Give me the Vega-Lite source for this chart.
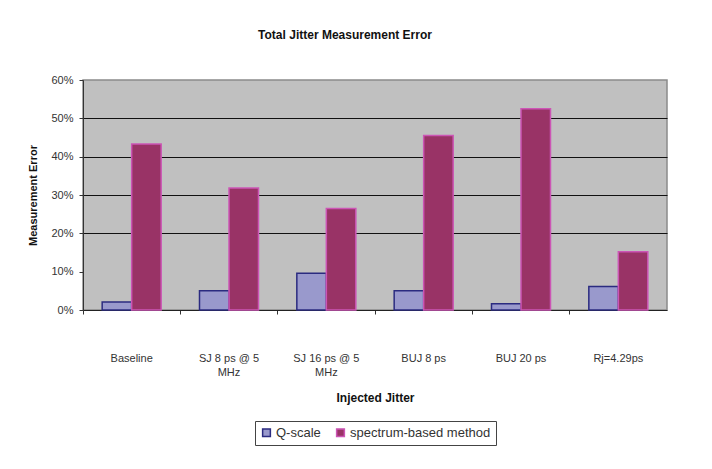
{
  "$schema": "https://vega.github.io/schema/vega-lite/v6.json",
  "width": 584,
  "height": 230,
  "autosize": {"type": "none"},
  "padding": {"left": 83, "top": 80, "right": 45, "bottom": 159},
  "background": "white",
  "config": {
    "font": "Liberation Sans",
    "view": {"fill": "#C0C0C0", "stroke": "#8a8a8a", "strokeWidth": 1.5}
  },
  "title": {
    "text": "Total Jitter Measurement Error",
    "font": "Liberation Sans",
    "fontSize": 12,
    "fontWeight": "bold",
    "color": "#111",
    "anchor": "middle",
    "dx": -30,
    "offset": 32
  },
  "data": {
    "values": [
      {"jitter": "Baseline", "method": "Q-scale", "error": 0.021},
      {"jitter": "Baseline", "method": "spectrum-based method", "error": 0.433},
      {"jitter": "SJ 8 ps @ 5 MHz", "method": "Q-scale", "error": 0.050},
      {"jitter": "SJ 8 ps @ 5 MHz", "method": "spectrum-based method", "error": 0.318},
      {"jitter": "SJ 16 ps @ 5 MHz", "method": "Q-scale", "error": 0.096},
      {"jitter": "SJ 16 ps @ 5 MHz", "method": "spectrum-based method", "error": 0.265},
      {"jitter": "BUJ 8 ps", "method": "Q-scale", "error": 0.050},
      {"jitter": "BUJ 8 ps", "method": "spectrum-based method", "error": 0.455},
      {"jitter": "BUJ 20 ps", "method": "Q-scale", "error": 0.016},
      {"jitter": "BUJ 20 ps", "method": "spectrum-based method", "error": 0.525},
      {"jitter": "Rj=4.29ps", "method": "Q-scale", "error": 0.061},
      {"jitter": "Rj=4.29ps", "method": "spectrum-based method", "error": 0.152}
    ]
  },
  "mark": {"type": "bar", "strokeWidth": 1.5, "strokeJoin": "miter"},
  "encoding": {
    "x": {
      "field": "jitter",
      "type": "nominal",
      "sort": null,
      "scale": {"paddingInner": 0, "paddingOuter": 0},
      "axis": {
        "title": "Injected Jitter",
        "titleFont": "Liberation Sans",
        "titleFontSize": 12,
        "titleFontWeight": "bold",
        "titleColor": "#111",
        "titlePadding": 15,
        "labelAngle": 0,
        "labelFontSize": 11,
        "labelColor": "#333",
        "labelPadding": 38,
        "labelLineHeight": 14,
        "labelExpr": "indexof(datum.label, ' MHz') > 0 ? [slice(datum.label, 0, indexof(datum.label, ' MHz')), 'MHz'] : datum.label",
        "bandPosition": 0,
        "tickColor": "#333",
        "tickSize": 4,
        "domainColor": "#222",
        "domainWidth": 1,
        "grid": false
      }
    },
    "xOffset": {
      "field": "method",
      "type": "nominal",
      "scale": {"paddingInner": 0, "paddingOuter": 0.65}
    },
    "y": {
      "field": "error",
      "type": "quantitative",
      "scale": {"domain": [0, 0.6]},
      "axis": {
        "title": "Measurement Error",
        "titleFont": "Liberation Sans",
        "titleFontSize": 11,
        "titleFontWeight": "bold",
        "titleColor": "#111",
        "titlePadding": 12,
        "format": ".0%",
        "values": [0, 0.1, 0.2, 0.3, 0.4, 0.5, 0.6],
        "labelFontSize": 11,
        "labelColor": "#333",
        "labelPadding": 6,
        "tickColor": "#333",
        "tickSize": 4,
        "domainColor": "#333",
        "grid": true,
        "gridColor": "#111",
        "gridWidth": 1.2,
        "gridOpacity": {"condition": {"test": "datum.value == 0.1 || datum.value == 0.6 || datum.value == 0", "value": 0}, "value": 1}
      }
    },
    "fill": {
      "field": "method",
      "type": "nominal",
      "scale": {"domain": ["Q-scale", "spectrum-based method"], "range": ["#9999CC", "#993366"]},
      "legend": {
        "title": null,
        "orient": "none",
        "legendX": 172,
        "legendY": 341,
        "direction": "horizontal",
        "symbolType": "square",
        "symbolSize": 60,
        "symbolStrokeWidth": 1.5,
        "labelFontSize": 13,
        "labelColor": "#333",
        "labelOffset": 3,
        "columnPadding": 12,
        "padding": 5,
        "strokeColor": "#444",
        "fillColor": "white"
      }
    },
    "stroke": {
      "field": "method",
      "type": "nominal",
      "scale": {"domain": ["Q-scale", "spectrum-based method"], "range": ["#2B2B80", "#CC55B5"]},
      "legend": {
        "title": null,
        "orient": "none",
        "legendX": 172,
        "legendY": 341,
        "direction": "horizontal",
        "symbolType": "square",
        "symbolSize": 60,
        "symbolStrokeWidth": 1.5,
        "labelFontSize": 13,
        "labelColor": "#333",
        "labelOffset": 3,
        "columnPadding": 12,
        "padding": 5,
        "strokeColor": "#444",
        "fillColor": "white"
      }
    }
  }
}
